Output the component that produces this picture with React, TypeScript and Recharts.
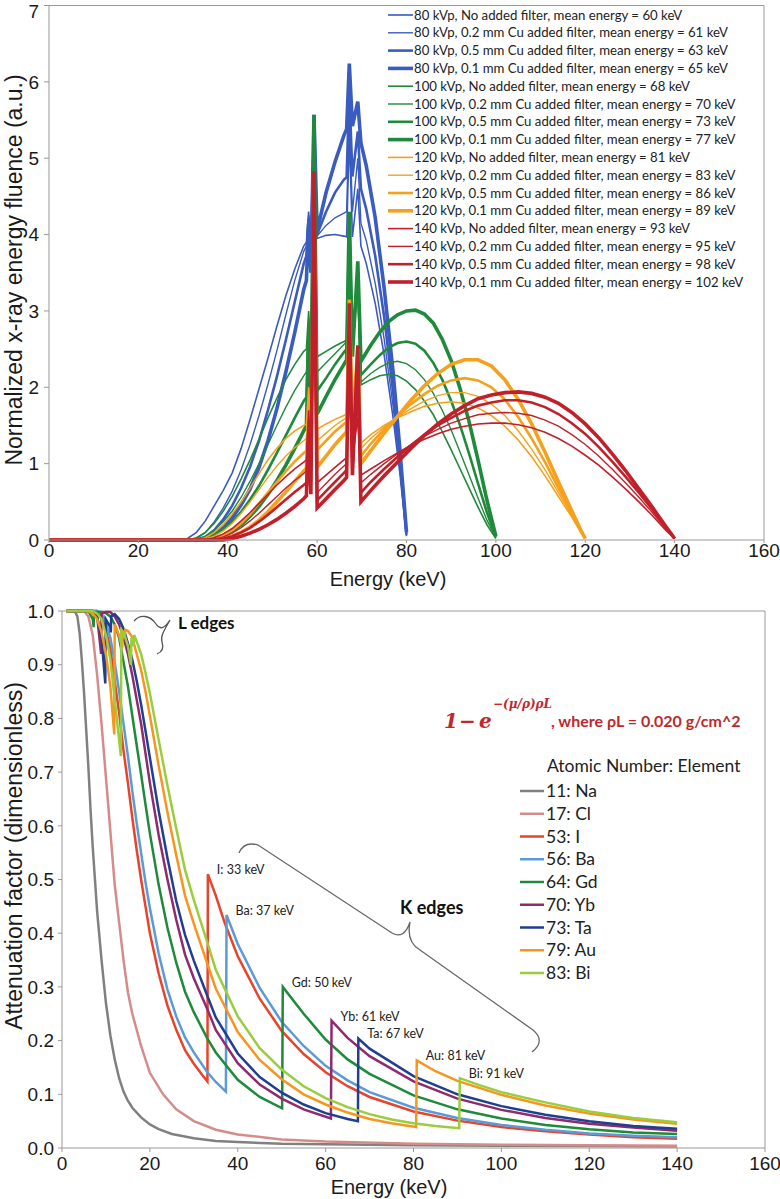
import React from 'react';
import { LineChart, Line, XAxis, YAxis, Legend, ReferenceLine, ReferenceDot } from 'recharts';

const AXIS_FONT = '"Liberation Sans", Arial, Helvetica, sans-serif';
const LEG_FONT = 'Lato, "Open Sans", sans-serif';

const energyTicks = [0, 20, 40, 60, 80, 100, 120, 140, 160];
const fluenceTicks = [0, 1, 2, 3, 4, 5, 6, 7];
const attenTicks = [0, 0.1, 0.2, 0.3, 0.4, 0.5, 0.6, 0.7, 0.8, 0.9, 1.0];

// ---------- Top chart: spectra ----------
const E80 = [0, 29, 31, 33, 35, 37, 39, 41, 43, 45, 47, 49, 51, 53, 55, 57, 57.6, 58.1, 58.6, 59.3, 60, 62, 64, 66, 66.6, 67.2, 67.9, 69.1, 69.8, 71, 73, 75, 77, 78.5, 80];
const kv80None = [0, 0, 0.02, 0.1, 0.25, 0.45, 0.65, 0.88, 1.2, 1.58, 1.98, 2.38, 2.8, 3.2, 3.55, 3.85, 3.9, 4.3, 3.92, 5.0, 3.95, 3.99, 4.0, 3.98, 3.97, 5.3, 3.97, 4.6, 3.85, 3.62, 3.1, 2.42, 1.6, 0.88, 0.05];
const kv80Cu02 = [0, 0, 0, 0.02, 0.1, 0.24, 0.42, 0.64, 0.92, 1.25, 1.63, 2.04, 2.48, 2.95, 3.4, 3.78, 3.85, 4.25, 3.88, 5.2, 3.98, 4.12, 4.22, 4.28, 4.3, 5.6, 4.3, 5.0, 4.15, 3.92, 3.36, 2.63, 1.75, 0.95, 0.06];
const kv80Cu05 = [0, 0, 0, 0, 0.04, 0.13, 0.27, 0.45, 0.68, 0.96, 1.3, 1.7, 2.14, 2.62, 3.12, 3.62, 3.72, 4.2, 3.78, 5.4, 4.0, 4.3, 4.55, 4.72, 4.75, 5.9, 4.76, 5.35, 4.6, 4.33, 3.72, 2.92, 1.94, 1.05, 0.07];
const kv80Cu10 = [0, 0, 0, 0, 0.02, 0.07, 0.16, 0.29, 0.46, 0.67, 0.95, 1.3, 1.72, 2.2, 2.72, 3.28, 3.4, 4.15, 3.5, 5.57, 4.05, 4.55, 4.95, 5.3, 5.38, 6.24, 5.42, 5.74, 5.2, 4.9, 4.22, 3.3, 2.2, 1.2, 0.1];

const E100 = [0, 31, 33, 35, 37, 39, 41, 43, 45, 47, 49, 51, 53, 55, 57, 57.6, 58.1, 58.6, 59.3, 60, 62, 64, 66, 66.6, 67.2, 67.9, 69.1, 69.8, 72, 74, 76, 78, 80, 82, 84, 86, 88, 90, 92, 94, 96, 98, 100];
const kv100None = [0, 0, 0.03, 0.1, 0.22, 0.38, 0.57, 0.8, 1.05, 1.32, 1.6, 1.86, 2.1, 2.3, 2.47, 2.5, 3.0, 2.45, 5.0, 2.4, 2.47, 2.54, 2.6, 2.62, 4.0, 2.6, 3.3, 2.03, 2.1, 2.15, 2.17, 2.15, 2.08, 1.97, 1.82, 1.64, 1.42, 1.18, 0.93, 0.68, 0.43, 0.2, 0.02];
const kv100Cu02 = [0, 0, 0.01, 0.05, 0.13, 0.24, 0.38, 0.56, 0.77, 1.0, 1.25, 1.5, 1.74, 1.96, 2.15, 2.2, 2.9, 2.18, 5.2, 2.2, 2.32, 2.44, 2.56, 2.6, 4.1, 2.6, 3.4, 2.07, 2.18, 2.26, 2.32, 2.34, 2.31, 2.23, 2.1, 1.92, 1.7, 1.44, 1.15, 0.85, 0.55, 0.26, 0.03];
const kv100Cu05 = [0, 0, 0, 0.02, 0.07, 0.14, 0.24, 0.37, 0.53, 0.71, 0.92, 1.14, 1.37, 1.6, 1.82, 1.87, 2.8, 1.9, 5.4, 1.95, 2.12, 2.3, 2.46, 2.5, 4.2, 2.52, 3.5, 2.16, 2.3, 2.42, 2.52, 2.58, 2.6, 2.57, 2.48, 2.32, 2.1, 1.82, 1.5, 1.13, 0.74, 0.36, 0.04];
const kv100Cu10 = [0, 0, 0, 0, 0.02, 0.06, 0.12, 0.2, 0.31, 0.44, 0.6, 0.78, 0.98, 1.2, 1.43, 1.5, 2.6, 1.55, 5.57, 1.65, 1.88, 2.1, 2.3, 2.36, 4.3, 2.4, 3.65, 2.34, 2.55, 2.72, 2.86, 2.95, 3.0, 3.01, 2.96, 2.84, 2.63, 2.35, 1.98, 1.55, 1.05, 0.52, 0.05];

const E120 = [0, 33, 35, 37, 39, 41, 43, 45, 47, 49, 51, 53, 55, 57, 57.6, 58.1, 58.6, 59.3, 60, 62, 64, 66, 66.6, 67.2, 67.9, 69.1, 69.8, 72, 75, 78, 81, 84, 87, 90, 93, 96, 99, 102, 105, 108, 111, 114, 117, 119, 120];
const kv120None = [0, 0, 0.03, 0.1, 0.2, 0.34, 0.5, 0.68, 0.87, 1.05, 1.2, 1.33, 1.43, 1.5, 1.52, 2.0, 1.5, 3.6, 1.45, 1.52, 1.58, 1.63, 1.65, 2.6, 1.65, 2.1, 1.27, 1.38, 1.5, 1.6, 1.68, 1.75, 1.79, 1.81, 1.79, 1.73, 1.63, 1.49, 1.31, 1.09, 0.84, 0.57, 0.3, 0.1, 0.02];
const kv120Cu02 = [0, 0, 0.01, 0.05, 0.12, 0.22, 0.35, 0.5, 0.66, 0.82, 0.97, 1.1, 1.21, 1.3, 1.33, 1.9, 1.33, 3.8, 1.3, 1.4, 1.5, 1.58, 1.6, 2.8, 1.62, 2.25, 1.2, 1.33, 1.48, 1.61, 1.72, 1.82, 1.89, 1.93, 1.93, 1.88, 1.78, 1.63, 1.43, 1.19, 0.92, 0.62, 0.32, 0.11, 0.02];
const kv120Cu05 = [0, 0, 0, 0.02, 0.06, 0.13, 0.22, 0.34, 0.48, 0.62, 0.76, 0.9, 1.03, 1.14, 1.17, 1.8, 1.2, 4.0, 1.18, 1.3, 1.42, 1.52, 1.55, 3.0, 1.58, 2.4, 1.1, 1.26, 1.45, 1.62, 1.78, 1.91, 2.02, 2.09, 2.12, 2.09, 2.0, 1.84, 1.61, 1.33, 1.02, 0.68, 0.35, 0.12, 0.02];
const kv120Cu10 = [0, 0, 0, 0, 0.02, 0.05, 0.1, 0.17, 0.26, 0.37, 0.5, 0.63, 0.77, 0.9, 0.94, 1.6, 0.95, 4.2, 0.95, 1.1, 1.25, 1.38, 1.42, 3.15, 1.45, 2.5, 1.0, 1.17, 1.4, 1.62, 1.83, 2.02, 2.18, 2.3, 2.36, 2.36, 2.28, 2.1, 1.84, 1.52, 1.15, 0.76, 0.38, 0.13, 0.02];

const E140 = [0, 35, 37, 39, 41, 43, 45, 47, 49, 51, 53, 55, 57, 57.6, 58.1, 58.6, 59.3, 60, 62, 64, 66, 66.6, 67.2, 67.9, 69.1, 69.8, 72, 75, 78, 81, 84, 87, 90, 93, 96, 99, 102, 105, 108, 111, 114, 117, 120, 123, 126, 129, 132, 135, 138, 140];
const kv140None = [0, 0, 0.03, 0.08, 0.15, 0.25, 0.36, 0.48, 0.6, 0.72, 0.83, 0.93, 1.02, 1.05, 1.7, 1.0, 3.2, 0.75, 0.85, 0.95, 1.05, 1.08, 2.0, 1.08, 1.6, 0.85, 0.93, 1.04, 1.14, 1.24, 1.32, 1.39, 1.45, 1.49, 1.52, 1.53, 1.53, 1.51, 1.47, 1.41, 1.33, 1.23, 1.11, 0.98, 0.83, 0.67, 0.5, 0.32, 0.13, 0.02];
const kv140Cu02 = [0, 0, 0.01, 0.04, 0.09, 0.16, 0.25, 0.35, 0.46, 0.57, 0.68, 0.78, 0.87, 0.9, 1.6, 0.88, 3.6, 0.62, 0.74, 0.86, 0.97, 1.0, 2.2, 1.0, 1.8, 0.75, 0.86, 1.0, 1.13, 1.25, 1.36, 1.45, 1.53, 1.59, 1.64, 1.66, 1.67, 1.66, 1.63, 1.57, 1.49, 1.38, 1.25, 1.1, 0.93, 0.75, 0.56, 0.36, 0.15, 0.02];
const kv140Cu05 = [0, 0, 0, 0.02, 0.05, 0.1, 0.16, 0.24, 0.33, 0.43, 0.53, 0.63, 0.72, 0.75, 1.5, 0.75, 4.2, 0.52, 0.64, 0.76, 0.88, 0.92, 2.6, 0.93, 2.1, 0.62, 0.76, 0.93, 1.09, 1.24, 1.38, 1.5, 1.6, 1.69, 1.76, 1.8, 1.83, 1.83, 1.8, 1.74, 1.65, 1.53, 1.39, 1.22, 1.03, 0.83, 0.62, 0.4, 0.17, 0.02];
const kv140Cu10 = [0, 0, 0, 0, 0.02, 0.05, 0.09, 0.14, 0.2, 0.27, 0.35, 0.44, 0.54, 0.58, 1.4, 0.6, 4.83, 0.42, 0.54, 0.66, 0.78, 0.82, 3.1, 0.85, 2.55, 0.5, 0.65, 0.84, 1.02, 1.2, 1.37, 1.52, 1.65, 1.76, 1.85, 1.9, 1.93, 1.94, 1.92, 1.87, 1.79, 1.67, 1.52, 1.34, 1.13, 0.91, 0.67, 0.43, 0.18, 0.02];

const BLUE = '#3a5bbf';
const GREEN = '#1f8a3b';
const ORANGE = '#f5a11d';
const RED = '#c1202b';

const spectrumNames = [
  '80 kVp, No added filter, mean energy = 60 keV',
  '80 kVp, 0.2 mm Cu added filter, mean energy = 61 keV',
  '80 kVp, 0.5 mm Cu added filter, mean energy = 63 keV',
  '80 kVp, 0.1 mm Cu added filter, mean energy = 65 keV',
  '100 kVp, No added filter, mean energy = 68 keV',
  '100 kVp, 0.2 mm Cu added filter, mean energy = 70 keV',
  '100 kVp, 0.5 mm Cu added filter, mean energy = 73 keV',
  '100 kVp, 0.1 mm Cu added filter, mean energy = 77 keV',
  '120 kVp, No added filter, mean energy = 81 keV',
  '120 kVp, 0.2 mm Cu added filter, mean energy = 83 keV',
  '120 kVp, 0.5 mm Cu added filter, mean energy = 86 keV',
  '120 kVp, 0.1 mm Cu added filter, mean energy = 89 keV',
  '140 kVp, No added filter, mean energy = 93 keV',
  '140 kVp, 0.2 mm Cu added filter, mean energy = 95 keV',
  '140 kVp, 0.5 mm Cu added filter, mean energy = 98 keV',
  '140 kVp, 0.1 mm Cu added filter, mean energy = 102 keV',
];

const filterWidths = [1.6, 1.4, 2.6, 3.6];

const pts = (E: number[], V: number[]) => E.map((e, i) => ({ e, v: V[i] }));

const spectra = [
  { E: E80, V: kv80None, color: BLUE }, { E: E80, V: kv80Cu02, color: BLUE },
  { E: E80, V: kv80Cu05, color: BLUE }, { E: E80, V: kv80Cu10, color: BLUE },
  { E: E100, V: kv100None, color: GREEN }, { E: E100, V: kv100Cu02, color: GREEN },
  { E: E100, V: kv100Cu05, color: GREEN }, { E: E100, V: kv100Cu10, color: GREEN },
  { E: E120, V: kv120None, color: ORANGE }, { E: E120, V: kv120Cu02, color: ORANGE },
  { E: E120, V: kv120Cu05, color: ORANGE }, { E: E120, V: kv120Cu10, color: ORANGE },
  { E: E140, V: kv140None, color: RED }, { E: E140, V: kv140Cu02, color: RED },
  { E: E140, V: kv140Cu05, color: RED }, { E: E140, V: kv140Cu10, color: RED },
].map((s, i) => ({ ...s, name: spectrumNames[i], width: filterWidths[i % 4], data: pts(s.E, s.V) }));

// ---------- Bottom chart: attenuation ----------
const naCurve = [[1, 1], [2, 1], [3, 0.998], [3.5, 0.99], [4, 0.96], [4.5, 0.91], [5, 0.85], [5.5, 0.78], [6, 0.71], [6.5, 0.63], [7, 0.56], [7.5, 0.5], [8, 0.44], [9, 0.35], [10, 0.27], [11, 0.21], [12, 0.165], [13, 0.13], [14, 0.105], [15, 0.088], [16, 0.075], [18, 0.057], [20, 0.044], [22, 0.035], [25, 0.026], [30, 0.018], [35, 0.013], [40, 0.011], [50, 0.008], [60, 0.007], [80, 0.005], [100, 0.004], [120, 0.0035], [140, 0.003]];
const clCurve = [[1, 1], [5, 1], [6, 0.99], [7, 0.955], [8, 0.88], [9, 0.79], [10, 0.69], [11, 0.59], [12, 0.49], [13, 0.42], [14, 0.35], [15, 0.29], [16, 0.25], [18, 0.19], [20, 0.14], [23, 0.1], [26, 0.072], [30, 0.05], [35, 0.034], [40, 0.025], [50, 0.016], [60, 0.012], [80, 0.008], [100, 0.006], [120, 0.005], [140, 0.004]];
const iCurve = [[1, 1], [8, 1], [9, 0.99], [10, 0.965], [11, 0.93], [12, 0.87], [13, 0.81], [14, 0.74], [15, 0.68], [16, 0.615], [17, 0.555], [18, 0.5], [19, 0.45], [20, 0.4], [22, 0.325], [24, 0.265], [26, 0.22], [28, 0.182], [30, 0.157], [32, 0.135], [33.1, 0.124], [33.2, 0.51], [35, 0.47], [37, 0.42], [40, 0.357], [45, 0.278], [50, 0.218], [55, 0.175], [60, 0.141], [65, 0.115], [70, 0.095], [80, 0.068], [90, 0.051], [100, 0.039], [110, 0.031], [120, 0.025], [130, 0.02], [140, 0.017]];
const baCurve = [[1, 1], [8, 1], [9, 0.995], [10, 0.979], [11, 0.95], [12, 0.904], [13, 0.85], [14, 0.79], [15, 0.73], [16, 0.665], [17, 0.605], [18, 0.55], [19, 0.495], [20, 0.447], [22, 0.362], [24, 0.295], [26, 0.245], [28, 0.206], [30, 0.178], [33, 0.142], [35, 0.123], [37.3, 0.105], [37.45, 0.434], [40, 0.38], [45, 0.298], [50, 0.235], [55, 0.19], [60, 0.153], [65, 0.126], [70, 0.104], [80, 0.075], [90, 0.056], [100, 0.043], [110, 0.034], [120, 0.027], [130, 0.023], [140, 0.02]];
const gdCurve = [[1, 1], [6, 1], [7, 0.985], [7.2, 0.97], [7.3, 0.998], [9, 0.998], [10, 0.996], [11, 0.99], [12, 0.975], [13, 0.95], [14, 0.905], [15, 0.86], [16, 0.805], [17, 0.75], [18, 0.696], [19, 0.64], [20, 0.586], [22, 0.49], [24, 0.41], [26, 0.345], [28, 0.291], [30, 0.253], [33, 0.205], [35, 0.178], [40, 0.127], [45, 0.095], [50.1, 0.074], [50.25, 0.3], [55, 0.25], [60, 0.202], [65, 0.165], [70, 0.138], [80, 0.098], [90, 0.072], [100, 0.055], [110, 0.043], [120, 0.035], [130, 0.029], [140, 0.026]];
const ybCurve = [[1, 1], [7, 1], [8, 0.99], [8.9, 0.92], [9.0, 0.995], [10, 0.998], [11, 0.998], [12, 0.99], [13, 0.975], [14, 0.951], [15, 0.92], [16, 0.88], [17, 0.835], [18, 0.79], [19, 0.735], [20, 0.68], [22, 0.583], [24, 0.5], [26, 0.425], [28, 0.36], [30, 0.316], [33, 0.26], [35, 0.22], [40, 0.158], [45, 0.118], [50, 0.092], [55, 0.072], [61.2, 0.055], [61.35, 0.237], [65, 0.205], [70, 0.171], [80, 0.124], [90, 0.092], [100, 0.071], [110, 0.056], [120, 0.045], [130, 0.038], [140, 0.032]];
const taCurve = [[1, 1], [7, 1], [8, 0.99], [9, 0.95], [9.85, 0.865], [9.95, 0.985], [11, 0.97], [11.1, 0.96], [11.2, 0.99], [12, 0.994], [13, 0.985], [14, 0.967], [15, 0.94], [16, 0.909], [17, 0.87], [18, 0.826], [19, 0.777], [20, 0.727], [22, 0.628], [24, 0.54], [26, 0.46], [28, 0.397], [30, 0.349], [33, 0.285], [35, 0.243], [40, 0.176], [45, 0.132], [50, 0.103], [55, 0.081], [60, 0.065], [65, 0.054], [67.35, 0.05], [67.45, 0.204], [70, 0.185], [80, 0.134], [90, 0.1], [100, 0.078], [110, 0.062], [120, 0.05], [130, 0.041], [140, 0.036]];
const auCurve = [[1, 1], [6, 1], [7, 0.995], [8, 0.985], [9, 0.96], [10, 0.92], [11, 0.86], [11.9, 0.77], [12.0, 0.975], [13, 0.955], [13.7, 0.93], [13.8, 0.96], [14.3, 0.95], [14.4, 0.965], [15, 0.963], [16, 0.951], [17, 0.92], [18, 0.89], [19, 0.85], [20, 0.805], [22, 0.712], [24, 0.625], [26, 0.545], [28, 0.47], [30, 0.418], [33, 0.345], [35, 0.297], [40, 0.216], [45, 0.164], [50, 0.128], [55, 0.1], [60, 0.081], [65, 0.066], [70, 0.054], [75, 0.046], [80.6, 0.039], [80.75, 0.163], [85, 0.143], [90, 0.125], [100, 0.099], [110, 0.079], [120, 0.064], [130, 0.053], [140, 0.045]];
const biCurve = [[1, 1], [7, 1], [8, 0.995], [9, 0.985], [10, 0.955], [11, 0.91], [12, 0.835], [13, 0.76], [13.4, 0.73], [13.5, 0.965], [14, 0.96], [15, 0.935], [15.7, 0.9], [15.8, 0.95], [16.3, 0.935], [16.45, 0.955], [17, 0.943], [18, 0.92], [19, 0.885], [20, 0.847], [22, 0.76], [24, 0.675], [26, 0.595], [28, 0.518], [30, 0.462], [33, 0.385], [35, 0.332], [40, 0.245], [45, 0.186], [50, 0.146], [55, 0.115], [60, 0.093], [65, 0.076], [70, 0.063], [75, 0.053], [80, 0.046], [85, 0.041], [90.4, 0.037], [90.55, 0.13], [95, 0.117], [100, 0.104], [110, 0.085], [120, 0.068], [130, 0.056], [140, 0.048]];

const elementNames = ['11: Na', '17: Cl', '53: I', '56: Ba', '64: Gd', '70: Yb', '73: Ta', '79: Au', '83: Bi'];
const elementColors = ['#808080', '#d48c8a', '#e8432c', '#5b9bd5', '#1e8a3a', '#8e2a6e', '#203f8f', '#f7951e', '#9acd3c'];
const elementCurves = [naCurve, clCurve, iCurve, baCurve, gdCurve, ybCurve, taCurve, auCurve, biCurve];

const kEdgeLabels = [
  { e: 33.2, v: 0.51, text: 'I: 33 keV' },
  { e: 37.45, v: 0.434, text: 'Ba: 37 keV' },
  { e: 50.25, v: 0.3, text: 'Gd: 50 keV' },
  { e: 61.35, v: 0.237, text: 'Yb: 61 keV' },
  { e: 67.45, v: 0.204, text: 'Ta: 67 keV' },
  { e: 80.75, v: 0.163, text: 'Au: 81 keV' },
  { e: 90.55, v: 0.13, text: 'Bi: 91 keV' },
];

const elements = elementCurves.map((c, i) => ({
  name: elementNames[i],
  color: elementColors[i],
  data: c.map(([e, v]) => ({ e, v })),
}));

// ---------- helpers ----------
const tickStyle = { fontSize: 19, fill: '#1a1a1a', fontFamily: AXIS_FONT };

const TopLegend = () => (
  <svg width={780} height={300} style={{ position: 'absolute', left: 0, top: 0, overflow: 'visible' }}>
    {spectra.map((s, i) => {
      const y = 15 + i * 17.8;
      return (
        <g key={s.name}>
          <line x1={388} x2={413} y1={y} y2={y} stroke={s.color} strokeWidth={s.width} />
          <text x={414} y={y + 4.6} fontSize={13.2} fontFamily={LEG_FONT} fill="#222">{s.name}</text>
        </g>
      );
    })}
  </svg>
);

const BottomLegend = () => (
  <svg width={780} height={420} style={{ position: 'absolute', left: 0, top: 0, overflow: 'visible' }}>
    <text x={547} y={176 + 6} fontSize={17.5} fontFamily={LEG_FONT} fill="#222">Atomic Number: Element</text>
    {elements.map((el, i) => {
      const y = 201 + i * 22.75;
      return (
        <g key={el.name}>
          <line x1={520} x2={544} y1={y} y2={y} stroke={el.color} strokeWidth={2.5} />
          <text x={546} y={y + 6} fontSize={17.5} fontFamily={LEG_FONT} fill="#222">{el.name}</text>
        </g>
      );
    })}
  </svg>
);

const EdgeLabel = (props: any) => {
  const vb = props.viewBox || {};
  const cx = (vb.x || 0) + (vb.width || 0) / 2;
  const cy = (vb.y || 0) + (vb.height || 0) / 2;
  return (
    <text x={cx + 9} y={cy} fontSize={12.5} fontFamily={LEG_FONT} fill="#222">{props.text}</text>
  );
};

export default function App() {
  return (
    <div style={{ position: 'absolute', left: 0, top: 0, width: 780, height: 1199, background: '#fff' }}>
      <div style={{ position: 'absolute', left: 0, top: 0 }}>
        <LineChart width={780} height={590} margin={{ top: 5.5, right: 16, left: 0, bottom: 0 }}>
          <XAxis
            type="number" dataKey="e" domain={[0, 160]} ticks={energyTicks} allowDataOverflow
            height={50} tickSize={3} tickMargin={1}
            axisLine={{ stroke: '#999' }} tickLine={{ stroke: '#999' }} tick={tickStyle}
            label={{ content: () => <text x={388} y={586} textAnchor="middle" fontSize={20} fontFamily={AXIS_FONT} fill="#1a1a1a">Energy (keV)</text> }}
          />
          <YAxis
            type="number" domain={[0, 7]} ticks={fluenceTicks} width={49} tickSize={5} tickMargin={5}
            axisLine={{ stroke: '#999' }} tickLine={{ stroke: '#999' }} tick={tickStyle}
            label={{ content: () => <text x={14} y={270} transform="rotate(-90 14 270)" textAnchor="middle" dominantBaseline="central" fontSize={23} fontFamily={AXIS_FONT} fill="#1a1a1a">Normalized x-ray energy fluence (a.u.)</text> }}
          />
          <ReferenceLine y={7} stroke="#999" strokeWidth={1} />
          <ReferenceLine x={160} stroke="#999" strokeWidth={1} />
          {spectra.map((s) => (
            <Line key={s.name} data={s.data} dataKey="v" name={s.name} type="linear" stroke={s.color}
              strokeWidth={s.width} dot={false} activeDot={false} isAnimationActive={false} />
          ))}
          <Legend layout="vertical" align="center" verticalAlign="middle" content={() => <TopLegend />}
            wrapperStyle={{ position: 'absolute', left: 0, top: 0, width: 780, height: 0 }} />
        </LineChart>
      </div>

      <div style={{ position: 'absolute', left: 0, top: 590 }}>
        <LineChart width={780} height={609} margin={{ top: 21, right: 15, left: 0, bottom: 0 }}>
          <XAxis
            type="number" dataKey="e" domain={[0, 160]} ticks={energyTicks} allowDataOverflow
            height={51} tickSize={4} tickMargin={5}
            axisLine={{ stroke: '#999' }} tickLine={{ stroke: '#999' }} tick={tickStyle}
            label={{ content: () => <text x={389} y={604} textAnchor="middle" fontSize={20} fontFamily={AXIS_FONT} fill="#1a1a1a">Energy (keV)</text> }}
          />
          <YAxis
            type="number" domain={[0, 1]} ticks={attenTicks} width={62} tickSize={4} tickMargin={4}
            tickFormatter={(v: number) => v.toFixed(1)}
            axisLine={{ stroke: '#999' }} tickLine={{ stroke: '#999' }} tick={tickStyle}
            label={{ content: () => <text x={14} y={266} transform="rotate(-90 14 266)" textAnchor="middle" dominantBaseline="central" fontSize={23} fontFamily={AXIS_FONT} fill="#1a1a1a">Attenuation factor (dimensionless)</text> }}
          />
          <ReferenceLine y={1} stroke="#999" strokeWidth={1} />
          <ReferenceLine x={160} stroke="#999" strokeWidth={1} />
          {elements.map((el) => (
            <Line key={el.name} data={el.data} dataKey="v" name={el.name} type="linear" stroke={el.color}
              strokeWidth={2.5} dot={false} activeDot={false} isAnimationActive={false} />
          ))}
          {kEdgeLabels.map((k) => (
            <ReferenceDot key={k.text} x={k.e} y={k.v} r={1} fill="none" stroke="none"
              label={<EdgeLabel text={k.text} />} />
          ))}
          <Legend layout="vertical" align="center" verticalAlign="middle" content={() => <BottomLegend />}
            wrapperStyle={{ position: 'absolute', left: 0, top: 0, width: 780, height: 0 }} />
        </LineChart>
      </div>

      {/* annotations for bottom chart */}
      <svg width={780} height={1199} style={{ position: 'absolute', left: 0, top: 0, pointerEvents: 'none' }}>
        <text x={178} y={629} fontSize={17} fontWeight={700} fontFamily={LEG_FONT} fill="#111">L edges</text>
        <path d="M134 621 C140 614 150 615 156 624 C160 630 164 629 170 620 C165 629 160 636 162 642 C164 648 162 652 157 654"
          fill="none" stroke="#555" strokeWidth={1.3} />
        <text x={400} y={914} fontSize={18} fontWeight={700} fontFamily={LEG_FONT} fill="#111">K edges</text>
        <path d="M239 853 Q244 841 258 845 L392 933 Q404 940 410 922 Q406 942 420 950 L533 1030 Q546 1041 532 1052"
          fill="none" stroke="#666" strokeWidth={1.3} />
        <g fill="#c0272d" fontWeight={700} fontFamily='"DejaVu Serif", serif' fontStyle="italic">
          <text x={444} y={728} fontSize={20}>1</text>
          <text x={459} y={728} fontSize={20}>−</text>
          <text x={479} y={728} fontSize={20}>e</text>
          <text x={493} y={708} fontSize={12}>−(μ/ρ)ρL</text>
        </g>
        <text x={551} y={727} fontSize={16} fontWeight={700} fontFamily={LEG_FONT} fill="#c0272d">, where ρL = 0.020 g/cm^2</text>
      </svg>
    </div>
  );
}
